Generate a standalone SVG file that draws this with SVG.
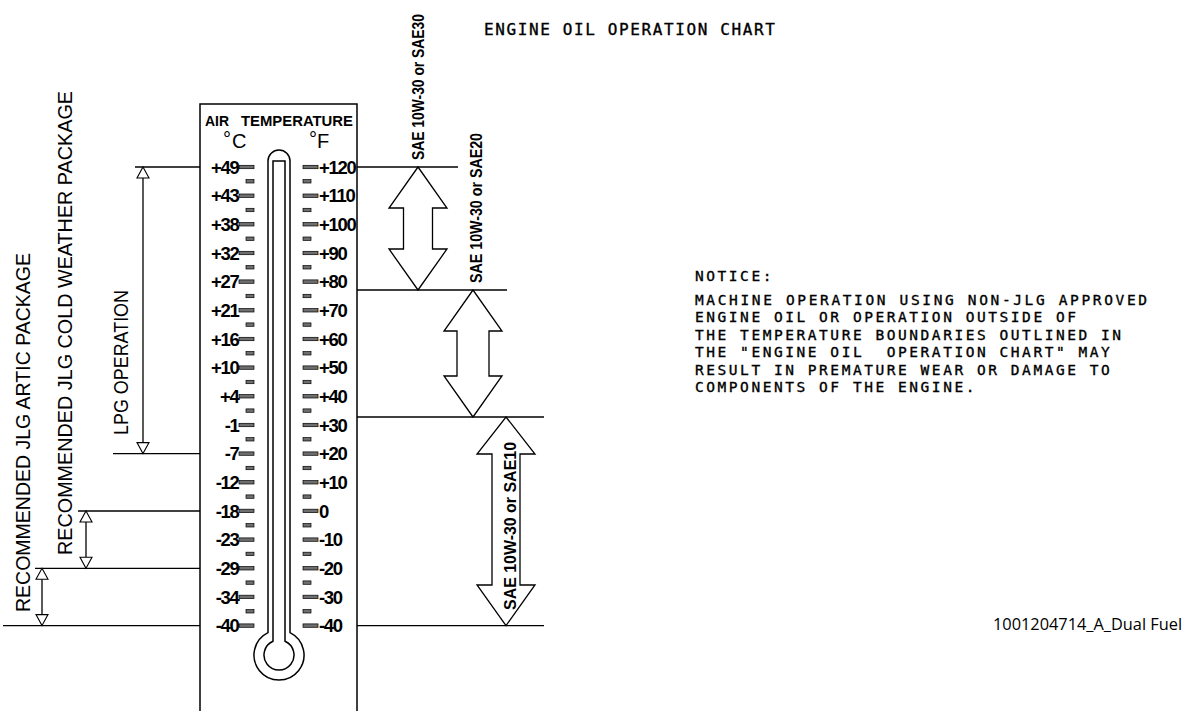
<svg xmlns="http://www.w3.org/2000/svg" width="1195" height="711" viewBox="0 0 1195 711">
<style>
.ln{stroke:#000;stroke-width:1.3;fill:none}
.th{stroke:#000;stroke-width:1.5;fill:none}
.tk{fill:#6e6e6e;stroke:#000;stroke-width:0.7}
.ah{fill:#fff;stroke:#000;stroke-width:1.1}
.big{fill:#fff;stroke:#000;stroke-width:1.3}
.lab{font-family:"Liberation Sans",Arial,sans-serif;font-weight:bold;font-size:18.5px;letter-spacing:-1.3px;fill:#000}
.rot{font-family:"Liberation Sans",Arial,sans-serif;font-size:20px;fill:#000}
.sae{font-family:"Liberation Sans",Arial,sans-serif;font-weight:bold;font-size:16px;fill:#000}
.mono{font-family:"DejaVu Sans Mono","Liberation Mono",monospace;fill:#000;stroke:#000;stroke-width:0.35}
.hdr{font-family:"Liberation Sans",Arial,sans-serif;font-weight:bold;font-size:15px;fill:#000}
.deg{font-family:"Liberation Sans",Arial,sans-serif;font-size:20px;fill:#000}
.foot{font-family:"Open Sans","Liberation Sans",sans-serif;font-size:16px;fill:#000}
</style>
<rect width="1195" height="711" fill="#fff"/>

<g id="thermometer">
<path class="th" d="M200,711 V104 H357 V711"/>
<text class="hdr" x="205" y="126" textLength="24" lengthAdjust="spacingAndGlyphs">AIR</text>
<text class="hdr" x="241" y="126" textLength="112" lengthAdjust="spacingAndGlyphs">TEMPERATURE</text>
<text class="deg" x="223" y="146" font-size="14">°</text>
<text class="deg" x="232" y="148">C</text>
<text class="deg" x="309" y="146" font-size="14">°</text>
<text class="deg" x="317" y="148">F</text>
<path class="th" d="M268,632.6 V161 A11,11 0 0 1 290,161 V632.6 A25,25 0 1 1 268,632.6 Z"/>
<path class="th" d="M273,641.3 V161 H285 V641.3 A15,15 0 1 1 273,641.3 Z"/>
</g>

<g id="scale-ticks">
<rect class="tk" x="239" y="165.3" width="15" height="3.4"/><rect class="tk" x="303" y="165.3" width="15" height="3.4"/>
<rect class="tk" x="239" y="194" width="15" height="3.4"/><rect class="tk" x="303" y="194" width="15" height="3.4"/>
<rect class="tk" x="239" y="222.6" width="15" height="3.4"/><rect class="tk" x="303" y="222.6" width="15" height="3.4"/>
<rect class="tk" x="239" y="251.3" width="15" height="3.4"/><rect class="tk" x="303" y="251.3" width="15" height="3.4"/>
<rect class="tk" x="239" y="279.9" width="15" height="3.4"/><rect class="tk" x="303" y="279.9" width="15" height="3.4"/>
<rect class="tk" x="239" y="308.6" width="15" height="3.4"/><rect class="tk" x="303" y="308.6" width="15" height="3.4"/>
<rect class="tk" x="239" y="337.3" width="15" height="3.4"/><rect class="tk" x="303" y="337.3" width="15" height="3.4"/>
<rect class="tk" x="239" y="365.9" width="15" height="3.4"/><rect class="tk" x="303" y="365.9" width="15" height="3.4"/>
<rect class="tk" x="239" y="394.6" width="15" height="3.4"/><rect class="tk" x="303" y="394.6" width="15" height="3.4"/>
<rect class="tk" x="239" y="423.3" width="15" height="3.4"/><rect class="tk" x="303" y="423.3" width="15" height="3.4"/>
<rect class="tk" x="239" y="451.9" width="15" height="3.4"/><rect class="tk" x="303" y="451.9" width="15" height="3.4"/>
<rect class="tk" x="239" y="480.6" width="15" height="3.4"/><rect class="tk" x="303" y="480.6" width="15" height="3.4"/>
<rect class="tk" x="239" y="509.2" width="15" height="3.4"/><rect class="tk" x="303" y="509.2" width="15" height="3.4"/>
<rect class="tk" x="239" y="537.9" width="15" height="3.4"/><rect class="tk" x="303" y="537.9" width="15" height="3.4"/>
<rect class="tk" x="239" y="566.6" width="15" height="3.4"/><rect class="tk" x="303" y="566.6" width="15" height="3.4"/>
<rect class="tk" x="239" y="595.2" width="15" height="3.4"/><rect class="tk" x="303" y="595.2" width="15" height="3.4"/>
<rect class="tk" x="239" y="623.9" width="15" height="3.4"/><rect class="tk" x="303" y="623.9" width="15" height="3.4"/>

<rect class="tk" x="246" y="179.6" width="8" height="3.4"/><rect class="tk" x="303" y="179.6" width="8" height="3.4"/>
<rect class="tk" x="246" y="208.3" width="8" height="3.4"/><rect class="tk" x="303" y="208.3" width="8" height="3.4"/>
<rect class="tk" x="246" y="237" width="8" height="3.4"/><rect class="tk" x="303" y="237" width="8" height="3.4"/>
<rect class="tk" x="246" y="265.6" width="8" height="3.4"/><rect class="tk" x="303" y="265.6" width="8" height="3.4"/>
<rect class="tk" x="246" y="294.3" width="8" height="3.4"/><rect class="tk" x="303" y="294.3" width="8" height="3.4"/>
<rect class="tk" x="246" y="322.9" width="8" height="3.4"/><rect class="tk" x="303" y="322.9" width="8" height="3.4"/>
<rect class="tk" x="246" y="351.6" width="8" height="3.4"/><rect class="tk" x="303" y="351.6" width="8" height="3.4"/>
<rect class="tk" x="246" y="380.3" width="8" height="3.4"/><rect class="tk" x="303" y="380.3" width="8" height="3.4"/>
<rect class="tk" x="246" y="408.9" width="8" height="3.4"/><rect class="tk" x="303" y="408.9" width="8" height="3.4"/>
<rect class="tk" x="246" y="437.6" width="8" height="3.4"/><rect class="tk" x="303" y="437.6" width="8" height="3.4"/>
<rect class="tk" x="246" y="466.3" width="8" height="3.4"/><rect class="tk" x="303" y="466.3" width="8" height="3.4"/>
<rect class="tk" x="246" y="494.9" width="8" height="3.4"/><rect class="tk" x="303" y="494.9" width="8" height="3.4"/>
<rect class="tk" x="246" y="523.6" width="8" height="3.4"/><rect class="tk" x="303" y="523.6" width="8" height="3.4"/>
<rect class="tk" x="246" y="552.2" width="8" height="3.4"/><rect class="tk" x="303" y="552.2" width="8" height="3.4"/>
<rect class="tk" x="246" y="580.9" width="8" height="3.4"/><rect class="tk" x="303" y="580.9" width="8" height="3.4"/>
<rect class="tk" x="246" y="609.6" width="8" height="3.4"/><rect class="tk" x="303" y="609.6" width="8" height="3.4"/>
</g>

<g id="celsius-labels" text-anchor="end">
<text class="lab" x="238.5" y="173.7">+49</text>
<text class="lab" x="238.5" y="202.4">+43</text>
<text class="lab" x="238.5" y="231">+38</text>
<text class="lab" x="238.5" y="259.7">+32</text>
<text class="lab" x="238.5" y="288.3">+27</text>
<text class="lab" x="238.5" y="317">+21</text>
<text class="lab" x="238.5" y="345.7">+16</text>
<text class="lab" x="238.5" y="374.3">+10</text>
<text class="lab" x="238.5" y="403">+4</text>
<text class="lab" x="238.5" y="431.7">-1</text>
<text class="lab" x="238.5" y="460.3">-7</text>
<text class="lab" x="238.5" y="489">-12</text>
<text class="lab" x="238.5" y="517.6">-18</text>
<text class="lab" x="238.5" y="546.3">-23</text>
<text class="lab" x="238.5" y="575">-29</text>
<text class="lab" x="238.5" y="603.6">-34</text>
<text class="lab" x="238.5" y="632.3">-40</text>
</g>

<g id="fahrenheit-labels">
<text class="lab" x="319" y="173.7">+120</text>
<text class="lab" x="319" y="202.4">+110</text>
<text class="lab" x="319" y="231">+100</text>
<text class="lab" x="319" y="259.7">+90</text>
<text class="lab" x="319" y="288.3">+80</text>
<text class="lab" x="319" y="317">+70</text>
<text class="lab" x="319" y="345.7">+60</text>
<text class="lab" x="319" y="374.3">+50</text>
<text class="lab" x="319" y="403">+40</text>
<text class="lab" x="319" y="431.7">+30</text>
<text class="lab" x="319" y="460.3">+20</text>
<text class="lab" x="319" y="489">+10</text>
<text class="lab" x="319" y="517.6">0</text>
<text class="lab" x="319" y="546.3">-10</text>
<text class="lab" x="319" y="575">-20</text>
<text class="lab" x="319" y="603.6">-30</text>
<text class="lab" x="319" y="632.3">-40</text>
</g>

<g id="connectors">
<line class="ln" x1="135" y1="167" x2="200" y2="167"/>
<line class="ln" x1="113" y1="453.6" x2="200" y2="453.6"/>
<line class="ln" x1="78" y1="511" x2="200" y2="511"/>
<line class="ln" x1="35" y1="568.3" x2="200" y2="568.3"/>
<line class="ln" x1="3" y1="625.6" x2="200" y2="625.6"/>
<line class="ln" x1="357" y1="167" x2="458" y2="167"/>
<line class="ln" x1="357" y1="290" x2="507" y2="290"/>
<line class="ln" x1="357" y1="417" x2="544" y2="417"/>
<line class="ln" x1="357" y1="625.6" x2="544" y2="625.6"/>

<line class="ln" x1="143" y1="178" x2="143" y2="442.6"/>
<polygon class="ah" points="143,167 149,178 137,178"/>
<polygon class="ah" points="143,453.6 149,442.6 137,442.6"/>
<line class="ln" x1="86" y1="522" x2="86" y2="557.3"/>
<polygon class="ah" points="86,511 92,522 80,522"/>
<polygon class="ah" points="86,568.3 92,557.3 80,557.3"/>
<line class="ln" x1="42" y1="579.3" x2="42" y2="614.6"/>
<polygon class="ah" points="42,568.3 48,579.3 36,579.3"/>
<polygon class="ah" points="42,625.6 48,614.6 36,614.6"/>

<polygon class="big" points="418,167 447,208 432.5,208 432.5,249 447,249 418,290 389,249 403.5,249 403.5,208 389,208"/>
<polygon class="big" points="473,290 502,331 489,331 489,376 502,376 473,417 444,376 457,376 457,331 444,331"/>
<polygon class="big" points="506,417 535,454 520,454 520,585 535,585 506,625.6 477,585 492,585 492,454 477,454"/>
</g>

<g id="range-labels">
<text class="rot" font-size="18" transform="translate(128,435) rotate(-90)" textLength="145" lengthAdjust="spacingAndGlyphs">LPG OPERATION</text>
<text class="rot" transform="translate(72,555) rotate(-90)" textLength="464" lengthAdjust="spacingAndGlyphs">RECOMMENDED JLG COLD WEATHER PACKAGE</text>
<text class="rot" transform="translate(30,612) rotate(-90)" textLength="359" lengthAdjust="spacingAndGlyphs">RECOMMENDED JLG ARTIC PACKAGE</text>
<text class="sae" transform="translate(424,160) rotate(-90)" textLength="146" lengthAdjust="spacingAndGlyphs">SAE 10W-30 or SAE30</text>
<text class="sae" transform="translate(482,283) rotate(-90)" textLength="150" lengthAdjust="spacingAndGlyphs">SAE 10W-30 or SAE20</text>
<text class="sae" transform="translate(516,610) rotate(-90)" textLength="168" lengthAdjust="spacingAndGlyphs">SAE 10W-30 or SAE10</text>
</g>

<g id="title">
<text class="mono" x="484" y="35" font-size="16" textLength="291" lengthAdjust="spacing">ENGINE OIL OPERATION CHART</text>
</g>

<g id="notice">
<text class="mono" x="695" y="281" font-size="14.5" letter-spacing="2.55">NOTICE:</text>
<text class="mono" x="695" y="305" font-size="14.5" textLength="452" lengthAdjust="spacing">MACHINE OPERATION USING NON-JLG APPROVED</text>
<text class="mono" x="695" y="322.4" font-size="14.5" letter-spacing="2.55">ENGINE OIL OR OPERATION OUTSIDE OF</text>
<text class="mono" x="695" y="339.8" font-size="14.5" letter-spacing="2.55">THE TEMPERATURE BOUNDARIES OUTLINED IN</text>
<text class="mono" x="695" y="357.2" font-size="14.5" letter-spacing="2.55" xml:space="preserve">THE "ENGINE OIL  OPERATION CHART" MAY</text>
<text class="mono" x="695" y="374.6" font-size="14.5" letter-spacing="2.55">RESULT IN PREMATURE WEAR OR DAMAGE TO</text>
<text class="mono" x="695" y="392" font-size="14.5" letter-spacing="2.55">COMPONENTS OF THE ENGINE.</text>
</g>

<g id="footer">
<text class="foot" x="993" y="630" textLength="189" lengthAdjust="spacingAndGlyphs">1001204714_A_Dual Fuel</text>
</g>
</svg>
